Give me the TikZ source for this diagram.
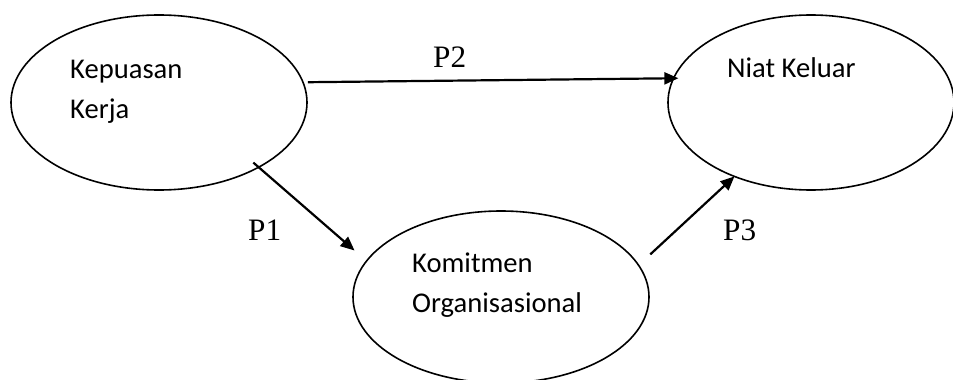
\documentclass[tikz,border=0pt]{standalone}
\usepackage{fontspec}
\setmainfont{Carlito}
\newfontfamily\timesfont{Liberation Serif}
\usetikzlibrary{positioning, arrows.meta, shapes.geometric}

\begin{document}
\begin{tikzpicture}[
    x=1pt, y=-1pt,
    >={Triangle[length=14pt,width=12pt]},
    % Styles for constructs, their names and the hypothesis paths
    construct/.style={ellipse, draw=black, line width=1.6pt, inner sep=0pt, outer sep=0pt},
    cname/.style={anchor=base west, inner sep=0pt, align=left, font=\fontsize{28.6}{40}\selectfont},
    hyp/.style={->, line width=2.2pt},
    plabel/.style={anchor=base west, inner sep=0pt, font=\timesfont\fontsize{31.2}{36}\selectfont}
]
  \useasboundingbox (0,0) rectangle (953,380);

  % --- CONSTRUCTS ---
  \node[construct, minimum width=296pt, minimum height=175pt] (kepuasan) at (159,102.5) {};
  \node[construct, minimum width=286pt, minimum height=175pt] (niat) at (811,102.5) {};
  \node[construct, minimum width=296pt, minimum height=172pt] (komitmen) at (501,297) {};

  % --- CONSTRUCT NAMES (base = last line) ---
  \node[cname] (kepuasantxt) at (70,118) {Kepuasan\\Kerja};
  \node[cname] (niattxt) at (727,77) {Niat Keluar};
  \node[cname] (komitmentxt) at (412,312) {Komitmen\\Organisasional};

  % --- HYPOTHESES ---
  \draw[hyp, shorten <=5pt, shorten >=-4.8pt] (kepuasan.8.9) -- (niat.170.75);
  \draw[hyp, shorten <=-7pt, shorten >=16pt] (kepuasan.-33) -- (komitmen.165.8);
  \draw[hyp, shorten <=16pt] (komitmen.13.9) -- (niat.224.8);

  \node[plabel] (p2) at (433,67) {P2};
  \node[plabel] (p1) at (248,240) {P1};
  \node[plabel] (p3) at (723,240) {P3};

\end{tikzpicture}
\end{document}
